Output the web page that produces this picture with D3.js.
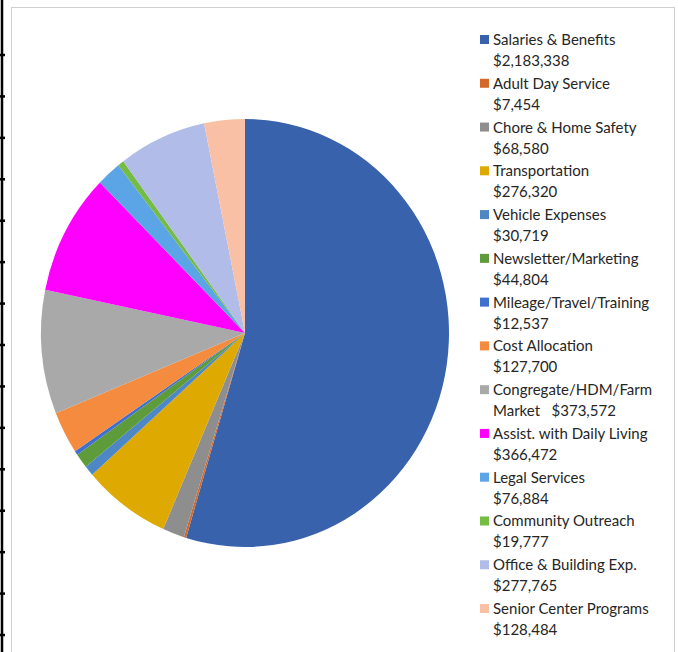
<!DOCTYPE html>
<html>
<head>
<meta charset="utf-8">
<script src="https://cdn.jsdelivr.net/npm/d3@7"></script>
<style>
  body { margin: 0; background: #fff; }
  text { font-family: Lato, "Open Sans", sans-serif; fill: #262626; white-space: pre; }
</style>
</head>
<body>
<div id="chart"></div>
<script>
  // expense categories, in the order they go round the pie (clockwise from 12 o'clock)
  var categories = [
    "Salaries & Benefits", "Adult Day Service", "Chore & Home Safety", "Transportation",
    "Vehicle Expenses", "Newsletter/Marketing", "Mileage/Travel/Training", "Cost Allocation",
    "Congregate/HDM/Farm", "Assist. with Daily Living", "Legal Services", "Community Outreach",
    "Office & Building Exp.", "Senior Center Programs"
  ];
  var amounts = [2183338, 7454, 68580, 276320, 30719, 44804, 12537, 127700,
                 373572, 366472, 76884, 19777, 277765, 128484];
  // text of the second legend line (Congregate one wraps differently)
  var secondLines = ["$2,183,338", "$7,454", "$68,580", "$276,320", "$30,719", "$44,804", "$12,537",
                     "$127,700", "Market   $373,572", "$366,472", "$76,884", "$19,777", "$277,765", "$128,484"];
  var colors = ["#3862ac", "#d4682a", "#8e8e8e", "#dea900", "#4d87c6", "#5e9b3b", "#3f70cf",
                "#f58b3e", "#a9a9a9", "#ff00ff", "#5ba4e6", "#74bc44", "#b2bce8", "#f9c0a5"];

  var width = 678, height = 652;

  var svg = d3.select("#chart")
    .append("svg")
    .attr("width", width)
    .attr("height", height);

  // black rule with little ticks down the left side (page border in the scan)
  svg.append("line")
    .attr("x1", 2).attr("x2", 2).attr("y1", 0).attr("y2", height)
    .attr("stroke", "#000").attr("stroke-width", 2.5);
  svg.selectAll(".tick")
    .data(d3.range(15))
    .enter().append("line")
    .attr("x1", 0).attr("x2", 5)
    .attr("y1", function (d) { return 55 + d * 41.43; })
    .attr("y2", function (d) { return 55 + d * 41.43; })
    .attr("stroke", "#000").attr("stroke-width", 2.5);

  // chart frame
  svg.append("rect")
    .attr("x", 11.5).attr("y", 7.5)
    .attr("width", 663).attr("height", 660)
    .attr("fill", "none")
    .attr("stroke", "#d0d0d0");

  /*
    pie, slightly squashed horizontally like the scan
  */
  var r = 214;
  var pie = d3.pie().sort(null).value(function (d) { return d; });
  var arc = d3.arc().innerRadius(0).outerRadius(r);

  var g = svg.append("g")
    .attr("transform", "translate(245,333) scale(" + (204 / 214) + ",1)");

  g.selectAll(".slice")
    .data(pie(amounts))
    .enter().append("path")
    .attr("class", "slice")
    .attr("d", arc)
    .attr("fill", function (d, i) { return colors[i]; });

  /*
    legend
  */
  var legend = svg.selectAll(".legend")
    .data(categories)
    .enter().append("g")
    .attr("class", "legend")
    .attr("transform", function (d, i) { return "translate(480," + (40 + i * 43.77) + ")"; });

  legend.append("rect")
    .attr("x", 0).attr("y", -5)
    .attr("width", 9).attr("height", 9)
    .attr("fill", function (d, i) { return colors[i]; });

  legend.append("text")
    .attr("x", 13).attr("y", 5)
    .attr("font-size", 15)
    .text(function (d) { return d; });

  legend.append("text")
    .attr("x", 13).attr("y", 26)
    .attr("font-size", 15)
    .text(function (d, i) { return secondLines[i]; });
</script>
</body>
</html>
